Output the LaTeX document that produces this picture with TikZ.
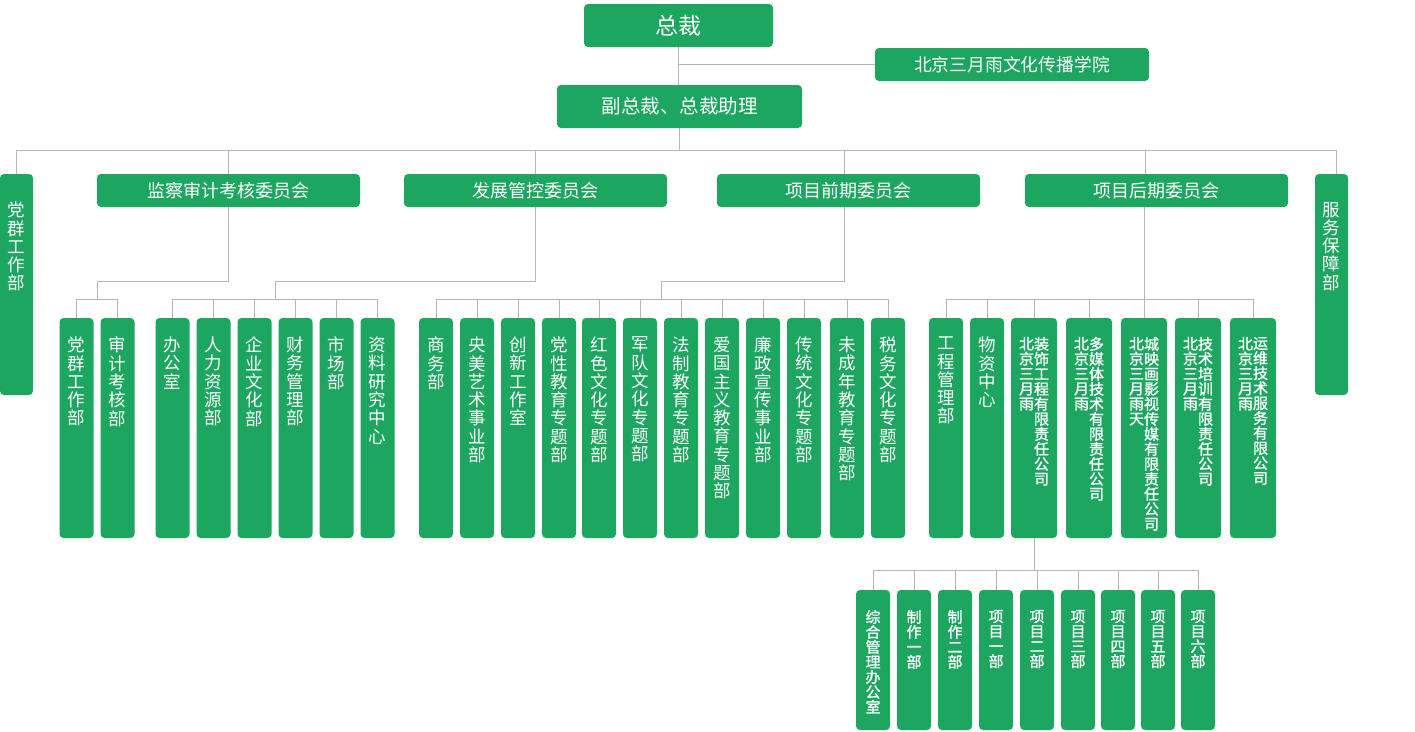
\documentclass[tikz,border=0pt]{standalone}
\usepackage{fontspec}
\newfontfamily\cjk{Noto Sans CJK SC}
\newfontfamily\cjkb{Noto Sans CJK SC}[FakeBold=1.2]
\XeTeXlinebreaklocale "zh"
\XeTeXlinebreakskip=0pt plus 1pt
\definecolor{orggreen}{RGB}{29,166,96}
\definecolor{orgline}{RGB}{182,182,182}

\begin{document}
\begin{tikzpicture}[x=1pt, y=-1pt,
	greenbox/.style={fill=orggreen, rounded corners=4pt, inner sep=0pt, text=white},
	colbox/.style={greenbox, minimum width=34, minimum height=220},
	wcolbox/.style={greenbox, minimum width=46, minimum height=220},
	vtext/.style={text=white, inner sep=0pt, anchor=north, align=center, text width=20pt, font=\cjk\fontsize{17.5}{18.3}\selectfont},
	stext/.style={text=white, inner sep=0pt, anchor=north, align=center, text width=16pt, font=\cjkb\fontsize{15}{15}\selectfont},
	link/.style={draw=orgline, line width=1pt}]
			%%%%% START %%%%%
			\useasboundingbox (0,0) rectangle (1415,731);
			
			\node[greenbox, minimum width=189, minimum height=43, font=\cjk\fontsize{23}{23}\selectfont] (zc) at (678.5,25.5) {总裁};
			\node[greenbox, minimum width=274, minimum height=33, font=\cjk\fontsize{17.8}{17.8}\selectfont] (xy) at (1012,64.5) {北京三月雨文化传播学院};
			\node[greenbox, minimum width=245, minimum height=43, font=\cjk\fontsize{19.5}{19.5}\selectfont] (fz) at (679.5,106.5) {副总裁、总裁助理};
			
			% committees
			\foreach \x/\n/\t in {228.5/jc/监察审计考核委员会, 535.5/fk/发展管控委员会, 848.5/qq/项目前期委员会, 1156.5/hq/项目后期委员会}
				\node[greenbox, minimum width=263, minimum height=33, font=\cjk\fontsize{18}{18}\selectfont] (\n) at (\x,190.5) {\t};
			
			\node[greenbox, minimum width=33, minimum height=221] (dq) at (16.5,284.5) {};
			\node[vtext] at ([yshift=-28pt]dq.north) {党群工作部};
			\node[greenbox, minimum width=33, minimum height=221] (fw) at (1331.5,284.5) {};
			\node[vtext] at ([yshift=-28pt]fw.north) {服务保障部};
			
			% departments
			\foreach \x/\t [count=\i] in {76.5/党群工作部, 117.5/审计考核部}{
				\node[colbox] (a\i) at (\x,428) {};
				\node[vtext] at ([yshift=-19pt]a\i.north) {\t};
			}
			\foreach \x/\t [count=\i] in {172.5/办公室, 213.5/人力资源部, 254.5/企业文化部, 295.5/财务管理部, 336.5/市场部, 377.5/资料研究中心}{
				\node[colbox] (b\i) at (\x,428) {};
				\node[vtext] at ([yshift=-19pt]b\i.north) {\t};
			}
			\foreach \x/\t [count=\i] in {436/商务部, 477/央美艺术事业部, 518/创新工作室, 559/党性教育专题部, 599/红色文化专题部, 640/军队文化专题部, 681/法制教育专题部, 722/爱国主义教育专题部, 763/廉政宣传事业部, 804/传统文化专题部, 847/未成年教育专题部, 888/税务文化专题部}{
				\node[colbox] (c\i) at (\x,428) {};
				\node[vtext] at ([yshift=-19pt]c\i.north) {\t};
			}
			\foreach \x/\t [count=\i] in {946/工程管理部, 987/物资中心}{
				\node[colbox] (d\i) at (\x,428) {};
				\node[vtext] at ([yshift=-19pt]d\i.north) {\t};
			}
			\foreach \x/\a/\b [count=\i from 3] in {1034/北京三月雨/装饰工程有限责任公司, 1089/北京三月雨/多媒体技术有限责任公司, 1144/北京三月雨天/城映画影视传媒有限责任公司, 1198/北京三月雨/技术培训有限责任公司, 1253/北京三月雨/运维技术服务有限公司}{
				\node[wcolbox] (d\i) at (\x,428) {};
				\node[stext] at ([xshift=-7.5pt, yshift=-19pt]d\i.north) {\a};
				\node[stext] at ([xshift=7.5pt, yshift=-19pt]d\i.north) {\b};
			}
			\foreach \x/\t [count=\i] in {873/综合管理办公室, 914/制作一部, 955/制作二部, 996/项目一部, 1037/项目二部, 1078/项目三部, 1118/项目四部, 1158/项目五部, 1198/项目六部}{
				\node[greenbox, minimum width=34, minimum height=140] (e\i) at (\x,660) {};
				\node[stext] at ([yshift=-20pt]e\i.north) {\t};
			}
			
			% lines
			\coordinate (bus) at (0,150);
			\draw[link] (zc.south) -- (zc.south |- fz.north);
			\draw[link] (zc.south |- xy.west) -- (xy.west);
			\draw[link] (fz.south) -- (fz.south |- bus);
			\draw[link] (dq.north) |- ([xshift=4.5pt]fw.north |- bus) -- ([xshift=4.5pt]fw.north);
			\foreach \n in {jc,fk} \draw[link] (\n.north) -- (\n.north |- bus);
			\draw[link] ([xshift=-4.5pt]qq.north) -- ([xshift=-4.5pt]qq.north |- bus);
			\draw[link] ([xshift=-11.5pt]hq.north) -- ([xshift=-11.5pt]hq.north |- bus);
			
			\coordinate (ja) at (97,281);
			\draw[link] (jc.south) |- (ja) -- ++(0,19);
			\draw[link] (a1.north) -- ++(0,-18) -| (a2.north);
			
			\coordinate (fb) at (275,281);
			\draw[link] (fk.south) |- (fb) -- ++(0,19);
			\draw[link] (b1.north) -- ++(0,-18) -| (b6.north);
			\foreach \i in {2,...,5} \draw[link] (b\i.north) -- ++(0,-18);
			
			\coordinate (qc) at (661,281);
			\draw[link] ([xshift=-4.5pt]qq.south) |- (qc) -- ++(0,19);
			\draw[link] (c1.north) -- ++(0,-18) -| (c12.north);
			\foreach \i in {2,...,11} \draw[link] (c\i.north) -- ++(0,-18);
			
			\draw[link] (d5.north) -- (d5.north |- hq.south);
			\draw[link] (d1.north) -- ++(0,-18) -| (d7.north);
			\foreach \i in {2,...,6} \draw[link] (d\i.north) -- ++(0,-18);
			
			\draw[link] (d3.south) -- ++(0,33);
			\draw[link] (e1.north) -- ++(0,-19) -| (e9.north);
			\foreach \i in {2,...,8} \draw[link] (e\i.north) -- ++(0,-19);
			
			%%%%% END %%%%%
\end{tikzpicture}
\end{document}
